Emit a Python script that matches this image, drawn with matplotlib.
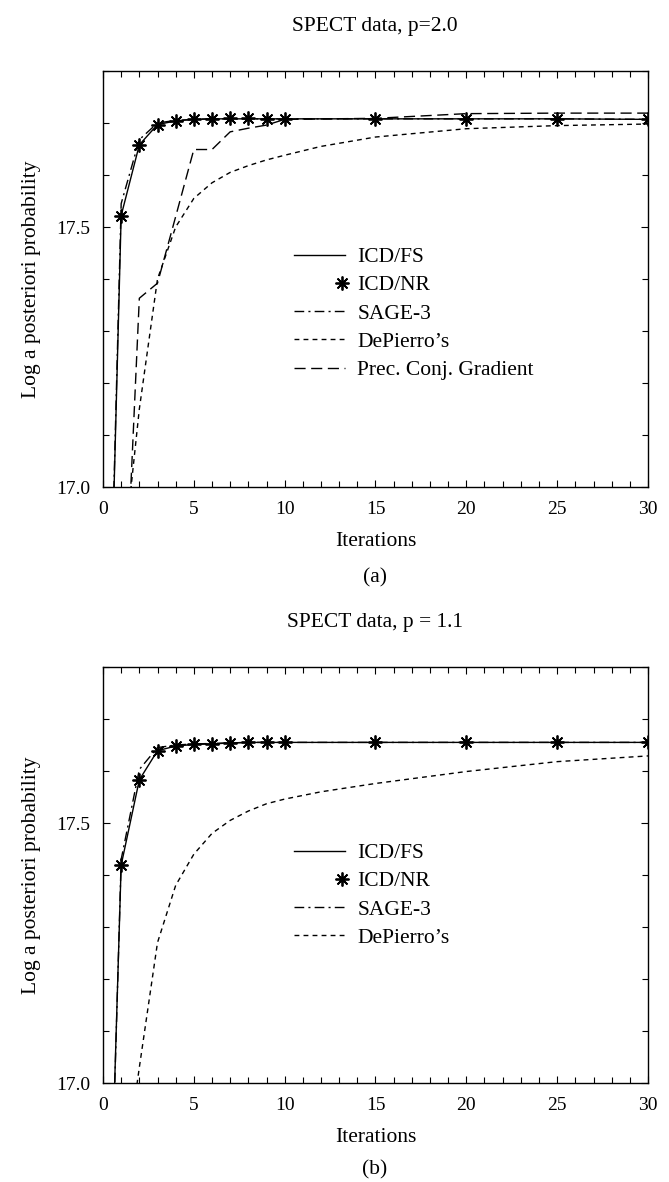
import numpy as np
import matplotlib
matplotlib.use("Agg")
import matplotlib.pyplot as plt
from matplotlib.legend_handler import HandlerLine2D
from matplotlib.ticker import MultipleLocator, FixedLocator, FormatStrFormatter

plt.rcParams['font.family'] = ['Liberation Serif', 'DejaVu Serif']

# ---- data, panel (a): SPECT data, p=2.0 ----
iters_icd = [0, 1, 2, 3, 4, 5, 6, 7, 8, 9, 10, 15, 20, 25, 30]
icd_fs_a = [16.18, 17.522, 17.658, 17.697, 17.704, 17.707, 17.708, 17.708,
            17.708, 17.708, 17.708, 17.708, 17.708, 17.708, 17.707]
icd_nr_a = [16.18, 17.522, 17.658, 17.697, 17.704, 17.708, 17.708, 17.709,
            17.709, 17.708, 17.708, 17.708, 17.708, 17.708, 17.707]
sage_a = [16.18, 17.545, 17.668, 17.700, 17.705, 17.707, 17.708, 17.708,
          17.708, 17.708, 17.708, 17.708, 17.708, 17.708, 17.707]
iters_dp = [1, 2, 3, 4, 5, 6, 7, 8, 9, 10, 12, 15, 20, 25, 30]
depierro_a = [16.82, 17.15, 17.40, 17.50, 17.555, 17.585, 17.605, 17.618,
              17.629, 17.638, 17.655, 17.673, 17.689, 17.695, 17.698]
iters_pcg = [1, 2, 3, 4, 5, 6, 7, 8, 9, 10, 15, 20, 25, 30]
pcg_a = [16.59, 17.363, 17.392, 17.52, 17.649, 17.649, 17.683, 17.690,
         17.696, 17.707, 17.709, 17.718, 17.719, 17.719]

# ---- data, panel (b): SPECT data, p = 1.1 ----
icd_fs_b = [16.25, 17.419, 17.583, 17.639, 17.648, 17.651, 17.652, 17.654,
            17.655, 17.655, 17.655, 17.655, 17.655, 17.655, 17.655]
icd_nr_b = [16.25, 17.419, 17.583, 17.639, 17.648, 17.651, 17.652, 17.654,
            17.655, 17.655, 17.655, 17.655, 17.655, 17.655, 17.655]
sage_b = [16.2, 17.43, 17.603, 17.645, 17.650, 17.652, 17.653, 17.654,
          17.655, 17.655, 17.655, 17.655, 17.655, 17.655, 17.655]
depierro_b = [16.78, 17.03, 17.27, 17.38, 17.44, 17.48, 17.505, 17.523,
              17.537, 17.546, 17.560, 17.576, 17.599, 17.618, 17.629]

xticks = [0, 5, 10, 15, 20, 25, 30]
yticks = [17.0, 17.5]

fs_tick = 14
fs_lab = 15.5

star = (8, 2, 0)


class RightMarker(HandlerLine2D):
    # single marker at the right end of the legend handle, no line
    def get_xdata(self, legend, xdescent, ydescent, width, height, fontsize):
        x = np.array([-xdescent + width - 0.15 * fontsize])
        return x, x


def setup_axes(ax):
    ax.set_xlim(0, 30)
    ax.set_ylim(17.0, 17.8)
    ax.xaxis.set_major_locator(FixedLocator(xticks))
    ax.xaxis.set_minor_locator(MultipleLocator(1))
    ax.yaxis.set_major_locator(FixedLocator(yticks))
    ax.yaxis.set_minor_locator(MultipleLocator(0.1))
    ax.yaxis.set_major_formatter(FormatStrFormatter('%.1f'))
    ax.tick_params(which='both', direction='in', top=True, right=True,
                   labelsize=fs_tick, width=0.8)
    ax.tick_params(axis='x', pad=10)
    ax.tick_params(axis='y', pad=9)
    ax.tick_params(which='major', length=5)
    ax.tick_params(which='minor', length=4)
    for s in ax.spines.values():
        s.set_linewidth(1.0)
    ax.set_xlabel('Iterations', fontsize=fs_lab, labelpad=10)
    ax.set_ylabel('Log a posteriori probability', fontsize=fs_lab, labelpad=11)


def add_legend(ax, handles, labels, marker_handle):
    ax.legend(handles, labels, loc='upper left', bbox_to_anchor=(0.35, 0.577),
              frameon=False, fontsize=fs_lab, handlelength=2.4,
              handletextpad=0.55, labelspacing=0.38, borderaxespad=0,
              borderpad=0, handler_map={marker_handle: RightMarker(numpoints=2)})


fig = plt.figure(figsize=(6.69, 11.82), dpi=100)
W, H = 669.0, 1182.0
ax1 = fig.add_axes([103 / W, 1 - 487 / H, 545 / W, 416 / H])
ax2 = fig.add_axes([103 / W, 1 - 1083 / H, 545 / W, 416 / H])

lw = 1.0
dash_sage = (0, (7, 3, 1.5, 3))
dash_dp = (0, (3.5, 3))
dash_pcg = (0, (8, 4))

# panel (a)
l1, = ax1.plot(iters_icd, icd_fs_a, color='black', lw=lw)
l2, = ax1.plot(iters_icd[1:], icd_nr_a[1:], ls='none', marker=star, ms=10,
               mec='black', mew=1.3, color='black')
l3, = ax1.plot(iters_icd, sage_a, color='black', lw=lw, ls=dash_sage)
l4, = ax1.plot(iters_dp, depierro_a, color='black', lw=lw, ls=dash_dp)
l5, = ax1.plot(iters_pcg, pcg_a, color='black', lw=lw, ls=dash_pcg)
setup_axes(ax1)
add_legend(ax1, [l1, l2, l3, l4, l5],
           ['ICD/FS', 'ICD/NR', 'SAGE-3', "DePierro\u2019s", 'Prec. Conj. Gradient'],
           l2)

# panel (b)
m1, = ax2.plot(iters_icd, icd_fs_b, color='black', lw=lw)
m2, = ax2.plot(iters_icd[1:], icd_nr_b[1:], ls='none', marker=star, ms=10,
               mec='black', mew=1.3, color='black')
m3, = ax2.plot(iters_icd, sage_b, color='black', lw=lw, ls=dash_sage)
m4, = ax2.plot(iters_dp, depierro_b, color='black', lw=lw, ls=dash_dp)
setup_axes(ax2)
add_legend(ax2, [m1, m2, m3, m4],
           ['ICD/FS', 'ICD/NR', 'SAGE-3', "DePierro\u2019s"], m2)

fig.text(375 / W, 1 - 27 / H, 'SPECT data, p=2.0', ha='center', va='center',
         fontsize=fs_lab)
fig.text(375 / W, 1 - 623 / H, 'SPECT data, p = 1.1', ha='center', va='center',
         fontsize=fs_lab)
fig.text(375 / W, 1 - 578 / H, '(a)', ha='center', va='center', fontsize=fs_lab)
fig.text(375 / W, 1 - 1170 / H, '(b)', ha='center', va='center', fontsize=fs_lab)

fig.savefig('out.png', dpi=100)
